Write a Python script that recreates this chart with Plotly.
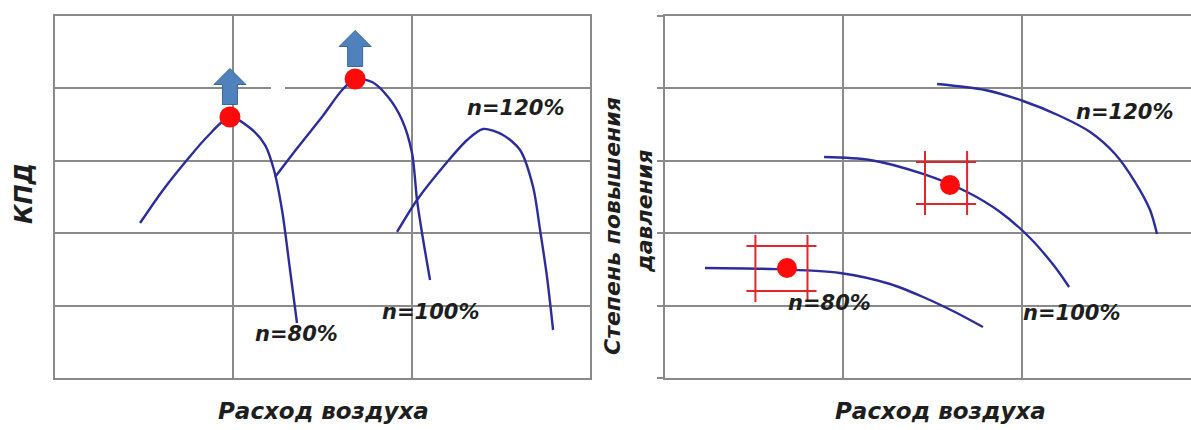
import plotly.graph_objects as go

# ---------------- data ----------------
# Left panel: efficiency (КПД) vs air flow, grid units (3 x 5)
eff80_x = [0.477, 0.606, 0.740, 0.852, 0.981, 1.094, 1.178, 1.228, 1.273, 1.318, 1.357]
eff80_y = [2.141, 2.597, 3.011, 3.329, 3.605, 3.453, 3.218, 2.873, 2.320, 1.492, 0.760]
eff100_x = [1.234, 1.363, 1.497, 1.610, 1.683, 1.778, 1.868, 1.946, 2.002, 2.030, 2.058, 2.103]
eff100_y = [2.776, 3.191, 3.605, 3.978, 4.130, 4.088, 3.881, 3.564, 3.108, 2.459, 2.003, 1.354]
eff120_x = [1.918, 2.030, 2.199, 2.311, 2.400, 2.512, 2.608, 2.681, 2.720, 2.759, 2.793]
eff120_y = [2.017, 2.459, 2.983, 3.287, 3.439, 3.356, 3.149, 2.638, 2.044, 1.395, 0.663]
eff_peak_x = [0.981, 1.683]
eff_peak_y = [3.605, 4.130]

# Right panel: pressure ratio vs air flow
pr80_x = [0.224, 0.589, 0.981, 1.262, 1.447, 1.637, 1.783]
pr80_y = [1.519, 1.506, 1.450, 1.298, 1.119, 0.898, 0.704]
pr100_x = [0.892, 1.150, 1.447, 1.694, 1.879, 2.047, 2.187, 2.266]
pr100_y = [3.052, 3.011, 2.818, 2.569, 2.293, 1.934, 1.533, 1.257]
pr120_x = [1.526, 1.795, 2.008, 2.215, 2.384, 2.524, 2.636, 2.720, 2.759]
pr120_y = [4.061, 3.978, 3.826, 3.619, 3.398, 3.094, 2.707, 2.320, 1.989]
pr_pt_x = [0.684, 1.598]
pr_pt_y = [1.519, 2.666]
box_cx = [0.653, 1.576]
box_cy = [1.513, 2.693]
box_hw = [0.146, 0.118]
box_hh = [0.311, 0.290]

labels = ["n=80%", "n=100%", "n=120%"]
left_lab_x = [1.352, 2.104, 2.580]
left_lab_y = [0.608, 0.912, 3.729]
right_lab_x = [0.925, 2.277, 2.574]
right_lab_y = [1.036, 0.898, 3.674]

# ---------------- style ----------------
W, H = 1191, 430
L_LEFT, L_RIGHT = 55, 590
R_LEFT = 665
TOP, BOT = 16, 378
PX_X = (L_RIGHT - L_LEFT) / 3.0
PX_Y = (BOT - TOP) / 5.0
CURVE = "#2c2c9c"
GRID = "#8a8a8a"
RED = "#ff0a0a"
TXT = "#1e1e1e"
FONT = "DejaVu Sans"

fig = go.Figure()

def curve(x, y, xa, ya):
    fig.add_trace(go.Scatter(x=x, y=y, mode="lines", xaxis=xa, yaxis=ya,
                             line=dict(color=CURVE, width=2.4, shape="spline", smoothing=0.8),
                             showlegend=False, hoverinfo="skip"))

curve(eff80_x, eff80_y, "x", "y")
curve(eff100_x, eff100_y, "x", "y")
curve(eff120_x, eff120_y, "x", "y")
curve(pr80_x, pr80_y, "x2", "y2")
curve(pr100_x, pr100_y, "x2", "y2")
curve(pr120_x, pr120_y, "x2", "y2")

shapes = []
# white gap in a gridline (as in the original)
shapes.append(dict(type="line", xref="x", yref="y", x0=(271 - L_LEFT) / PX_X, x1=(285 - L_LEFT) / PX_X,
                   y0=4, y1=4, line=dict(color="white", width=3), layer="above"))

# blue arrows above efficiency peaks
for px, py in zip(eff_peak_x, eff_peak_y):
    sw, hw = 7.5 / PX_X, 16 / PX_X
    yb, yh, yt = py + 12.5 / PX_Y, py + 32.5 / PX_Y, py + 48.5 / PX_Y
    path = (f"M {px - sw} {yb} L {px - sw} {yh} L {px - hw} {yh} L {px} {yt} "
            f"L {px + hw} {yh} L {px + sw} {yh} L {px + sw} {yb} Z")
    shapes.append(dict(type="path", xref="x", yref="y", path=path,
                       fillcolor="#4f81bd", line=dict(color="#3b6898", width=1)))

# red cross-hatch boxes on the right panel
for cx, cy, hw, hh in zip(box_cx, box_cy, box_hw, box_hh):
    ox, oy = 9 / PX_X, 11 / PX_Y
    for xv in (cx - hw, cx + hw):
        shapes.append(dict(type="line", xref="x2", yref="y2", x0=xv, x1=xv,
                           y0=cy - hh - oy, y1=cy + hh + oy, line=dict(color="#e0262a", width=2)))
    for yv in (cy - hh, cy + hh):
        shapes.append(dict(type="line", xref="x2", yref="y2", x0=cx - hw - ox, x1=cx + hw + ox,
                           y0=yv, y1=yv, line=dict(color="#e0262a", width=2)))

fig.add_trace(go.Scatter(x=eff_peak_x, y=eff_peak_y, mode="markers", xaxis="x", yaxis="y",
                         marker=dict(color=RED, size=21), showlegend=False, hoverinfo="skip"))
fig.add_trace(go.Scatter(x=pr_pt_x, y=pr_pt_y, mode="markers", xaxis="x2", yaxis="y2",
                         marker=dict(color=RED, size=20), showlegend=False, hoverinfo="skip"))

lab_font = dict(family=FONT, size=21, color=TXT, style="italic", weight="bold")
ann = []
for t, x, y in zip(labels, left_lab_x, left_lab_y):
    ann.append(dict(text=t, x=x, y=y, xref="x", yref="y", showarrow=False, font=lab_font))
for t, x, y in zip(labels, right_lab_x, right_lab_y):
    ann.append(dict(text=t, x=x, y=y, xref="x2", yref="y2", showarrow=False, font=lab_font))

title_font = dict(family=FONT, size=23, color=TXT, style="italic", weight="bold")
ann.append(dict(text="Расход воздуха", x=323 / W, y=(H - 411) / H, xref="paper", yref="paper",
                showarrow=False, font=title_font, xanchor="center", yanchor="middle"))
ann.append(dict(text="Расход воздуха", x=940 / W, y=(H - 411) / H, xref="paper", yref="paper",
                showarrow=False, font=title_font, xanchor="center", yanchor="middle"))
ann.append(dict(text="КПД", x=24 / W, y=(H - 194) / H, xref="paper", yref="paper", textangle=-90,
                showarrow=False, xanchor="center", yanchor="middle",
                font=dict(family=FONT, size=24, color=TXT, style="italic", weight="bold")))
ann.append(dict(text="Степень повышения", x=612 / W, y=(H - 226) / H, xref="paper", yref="paper",
                textangle=-90, showarrow=False, xanchor="center", yanchor="middle",
                font=dict(family=FONT, size=22, color=TXT, style="italic", weight="bold")))
ann.append(dict(text="давления", x=645 / W, y=(H - 212) / H, xref="paper", yref="paper",
                textangle=-90, showarrow=False, xanchor="center", yanchor="middle",
                font=dict(family=FONT, size=22, color=TXT, style="italic", weight="bold")))

ax_common = dict(showgrid=True, gridcolor=GRID, gridwidth=1.5, showticklabels=False, zeroline=False,
                 showline=True, linecolor=GRID, linewidth=1.5, dtick=1, tick0=0, fixedrange=True)
ydom = [(H - BOT) / H, (H - TOP) / H]

fig.update_layout(
    width=W, height=H, margin=dict(l=0, r=0, t=0, b=0),
    paper_bgcolor="white", plot_bgcolor="white",
    xaxis=dict(domain=[L_LEFT / W, L_RIGHT / W], range=[0, 3], mirror=True, ticks="", **ax_common),
    yaxis=dict(domain=ydom, range=[0, 5], mirror=True, ticks="", **ax_common),
    xaxis2=dict(domain=[R_LEFT / W, 1.0], range=[0, (W - R_LEFT) / PX_X], mirror=True, ticks="",
                anchor="y2", **ax_common),
    yaxis2=dict(domain=ydom, range=[0, 5], mirror=False, ticks="outside", ticklen=6, tickcolor=GRID,
                tickwidth=1.5, anchor="x2", **ax_common),
    shapes=shapes, annotations=ann,
)

fig.write_html("out.html", config={"displayModeBar": False},
               post_script="document.body.style.margin='0';document.body.style.overflow='hidden';")
